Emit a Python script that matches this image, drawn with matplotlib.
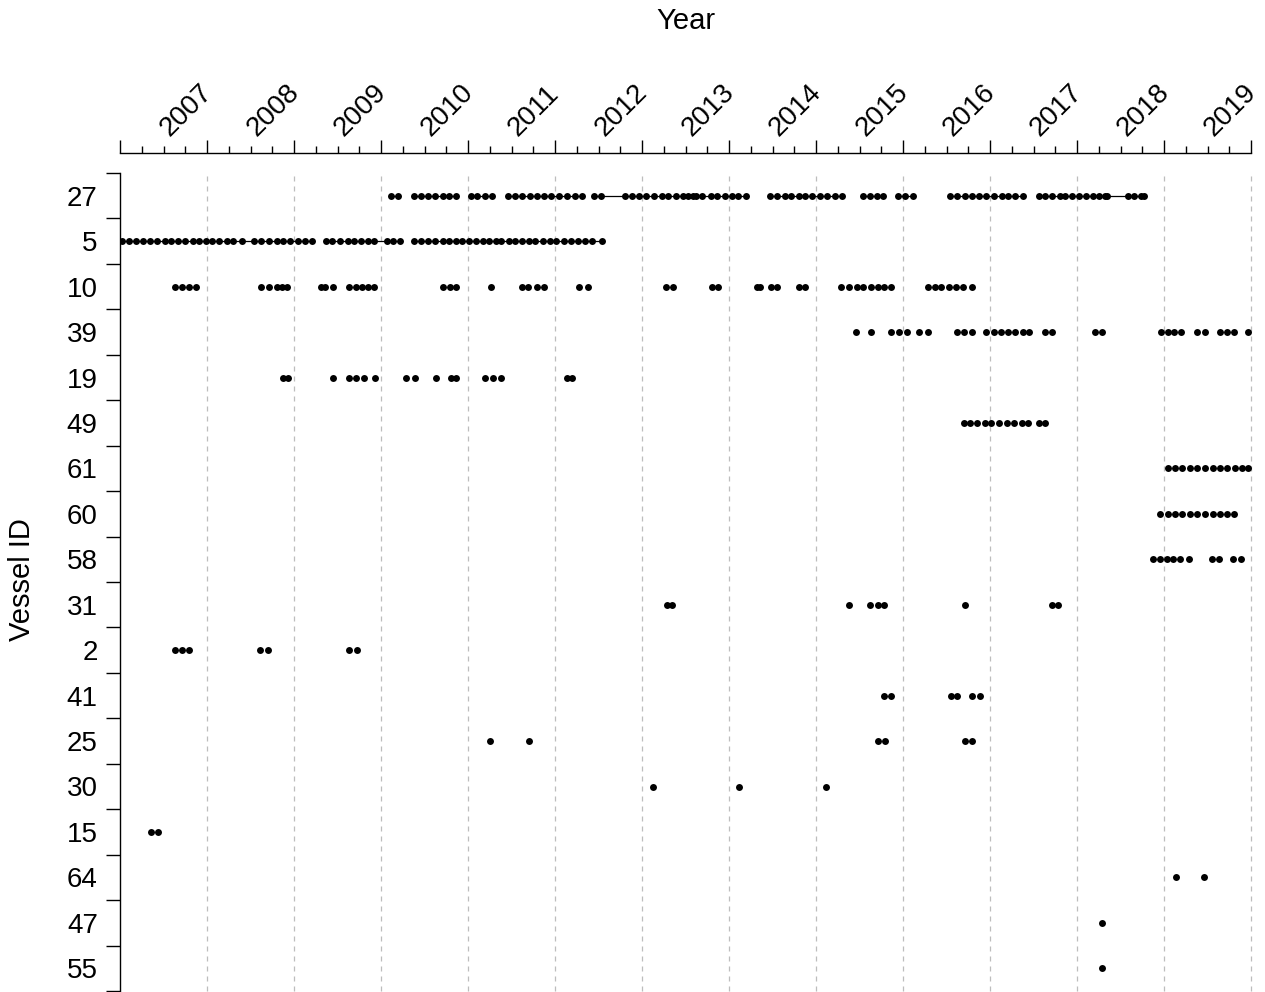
import matplotlib.pyplot as plt
from matplotlib.ticker import FixedLocator, NullFormatter

# vessel ids, top to bottom
vessels = [27, 5, 10, 39, 19, 49, 61, 60, 58, 31, 2, 41, 25, 30, 15, 64, 47, 55]

# observation times, in months since Jan 2007
v27 = [37.4, 38.4, 40.6, 41.5, 42.5, 43.4, 44.5, 45.4, 46.3, 48.4, 49.3, 50.3, 51.3,
       53.5, 54.5, 55.5, 56.6, 57.5, 58.5, 59.5, 60.6, 61.6, 62.7, 63.7, 65.4, 66.4,
       69.7, 70.6, 71.6, 72.6, 73.7, 74.7, 75.6, 76.7, 77.7, 78.4, 79.1, 79.5, 80.3,
       81.5, 82.3, 83.4, 84.4, 85.3, 86.4, 89.7, 90.6, 91.7, 92.6, 93.7, 94.5, 95.4,
       96.6, 97.5, 98.6, 99.6, 102.5, 103.4, 104.4, 105.3, 107.3, 108.3, 109.4,
       114.5, 115.4, 116.5, 117.5, 118.5, 119.5, 120.6, 121.6, 122.5, 123.5, 124.5,
       126.7, 127.6, 128.6, 129.7, 130.4, 131.3, 132.3, 133.3, 134.2, 135.0, 135.8,
       136.1, 139.0, 139.9, 140.8, 141.3]
v5 = [0.3, 1.2, 2.2, 3.2, 4.1, 5.1, 6.2, 7.1, 8.0, 9.0, 10.0, 10.9, 11.8, 12.7, 13.7,
      14.7, 15.6, 16.8, 18.5, 19.5, 20.5, 21.6, 22.5, 23.4, 24.5, 25.5, 26.5,
      28.4, 29.3, 30.3, 31.4, 32.3, 33.2, 34.2, 35.1, 36.8, 37.7, 38.6,
      40.6, 41.5, 42.5, 43.4, 44.5, 45.4, 46.3, 47.2, 48.1, 49.1, 50.0, 50.9, 51.8,
      52.6, 53.6, 54.5, 55.5, 56.4, 57.3, 58.4, 59.3, 60.2, 61.3, 62.2, 63.2, 64.1,
      65.1, 66.5]
v10 = [7.6, 8.5, 9.5, 10.5, 19.5, 20.5, 21.6, 22.3, 23.1, 27.7, 28.3, 29.4, 31.6, 32.5,
       33.4, 34.2, 35.1, 44.5, 45.5, 46.3, 51.2, 55.4, 56.3, 57.5, 58.5, 63.3, 64.5,
       75.3, 76.3, 81.6, 82.5, 87.8, 88.3, 89.8, 90.6, 93.7, 94.5, 99.4, 100.5, 101.6,
       102.5, 103.6, 104.6, 105.4, 106.3, 111.5, 112.4, 113.3, 114.3, 115.3, 116.3,
       117.5]
v39 = [101.5, 103.6, 106.4, 107.4, 108.5, 110.2, 111.5, 115.4, 116.4, 117.5, 119.5,
       120.5, 121.5, 122.5, 123.4, 124.5, 125.4, 127.6, 128.5, 134.5, 135.5, 143.6,
       144.5, 145.4, 146.4, 148.6, 149.6, 151.7, 152.7, 153.6, 155.6]
v19 = [22.5, 23.2, 29.4, 31.6, 32.6, 33.7, 35.2, 39.5, 40.7, 43.6, 45.7, 46.4, 50.4,
       51.5, 52.6, 61.6, 62.4]
v49 = [116.4, 117.3, 118.2, 119.3, 120.2, 121.3, 122.3, 123.3, 124.4, 125.3, 126.7, 127.6]
v61 = [144.5, 145.5, 146.5, 147.6, 148.6, 149.7, 150.7, 151.7, 152.7, 153.8, 154.7, 155.6]
v60 = [143.5, 144.5, 145.5, 146.5, 147.6, 148.6, 149.7, 150.7, 151.7, 152.7, 153.7]
v58 = [142.5, 143.4, 144.4, 145.3, 146.2, 147.4, 150.6, 151.6, 153.5, 154.6]
v31 = [75.4, 76.2, 100.6, 103.4, 104.5, 105.4, 116.6, 128.5, 129.4]
v2 = [7.6, 8.6, 9.5, 19.3, 20.4, 31.6, 32.7]
v41 = [105.4, 106.4, 114.6, 115.5, 117.5, 118.6]
v25 = [51.0, 56.4, 104.6, 105.5, 116.6, 117.5]
v30 = [73.5, 85.4, 97.4]
v15 = [4.3, 5.2]
v64 = [145.7, 149.5]
v47 = [135.4]
v55 = [135.4]

months = [v27, v5, v10, v39, v19, v49, v61, v60, v58, v31, v2, v41, v25, v30, v15, v64, v47, v55]

# connected stretches (months), drawn as a thin line
spans27 = [(37.4, 38.4), (40.6, 46.3), (48.4, 51.3), (53.5, 63.7), (65.4, 86.4), (89.7, 99.6),
           (102.5, 105.3), (107.3, 109.4), (114.5, 124.5), (126.7, 141.3)]
spans5 = [(0.3, 26.5), (28.4, 38.6), (40.6, 66.5)]

years = list(range(2007, 2020))

plt.rcParams['font.family'] = ['Liberation Sans', 'DejaVu Sans']

fig = plt.figure(figsize=(12.65, 9.92), dpi=100)
ax = fig.add_axes([120 / 1265, 1 / 992, 1131 / 1265, 818 / 992])

for row, m in enumerate(months):
    x = [2007 + v / 12 for v in m]
    ax.plot(x, [row] * len(x), 'o', color='black', ms=5, mew=0, zorder=3)

for row, spans in [(0, spans27), (1, spans5)]:
    for a, b in spans:
        ax.plot([2007 + a / 12, 2007 + b / 12], [row, row], color='black', lw=0.9, zorder=2)

for yr in range(2008, 2021):
    ax.axvline(yr, color='#bdbdbd', lw=0.9, ls=(0, (4, 4)), zorder=1, clip_on=False)

ax.set_xlim(2007, 2020)
ax.set_ylim(len(vessels) - 0.5, -0.5)

# y axis: labels at rows, ticks between rows
ax.set_yticks(range(len(vessels)))
ax.set_yticklabels([str(v) for v in vessels], fontsize=20)
ax.yaxis.set_minor_locator(FixedLocator([k - 0.5 for k in range(len(vessels) + 1)]))
ax.tick_params(axis='y', which='major', length=0, pad=16)
ax.tick_params(axis='y', which='minor', length=10, width=1, direction='out')

# x axis on top, detached from the plot
ax.xaxis.tick_top()
ax.spines['top'].set_position(('outward', 14.4))
ax.spines['right'].set_visible(False)
ax.spines['bottom'].set_visible(False)
ax.spines['left'].set_linewidth(1)
ax.spines['top'].set_linewidth(1)
ax.xaxis.set_major_locator(FixedLocator(range(2007, 2021)))
ax.xaxis.set_major_formatter(NullFormatter())
ax.xaxis.set_minor_locator(FixedLocator([y + q / 4 for y in years for q in (1, 2, 3)]))
ax.xaxis.set_minor_formatter(NullFormatter())
ax.tick_params(axis='x', which='major', length=9.4, width=1, direction='out', top=True, bottom=False)
ax.tick_params(axis='x', which='minor', length=5, width=1, direction='out', top=True, bottom=False)

# year labels, centred on each year, tilted
for yr in years:
    ax.annotate(str(yr), xy=(yr + 0.5, 1), xycoords=('data', 'axes fraction'),
                xytext=(4.5, 26), textcoords='offset points', rotation=45,
                rotation_mode='anchor', ha='left', va='baseline', fontsize=20,
                annotation_clip=False)

fig.text(686 / 1265, 1 - 21 / 992, 'Year', ha='center', va='center', fontsize=21)
fig.text(22 / 1265, 1 - 580 / 992, 'Vessel ID', ha='center', va='center', rotation=90, fontsize=21)

fig.savefig('out.png', dpi=100)
